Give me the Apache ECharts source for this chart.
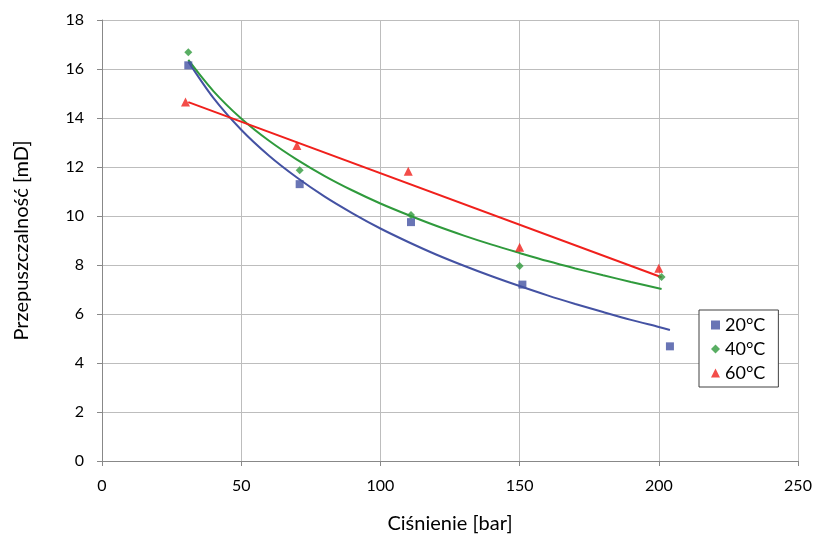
<!DOCTYPE html>
<html>
<head>
<meta charset="utf-8">
<script src="https://cdn.jsdelivr.net/npm/echarts@6/dist/echarts.min.js"></script>
<style>
html,body{margin:0;padding:0;background:#fff;}
#chart{width:815px;height:537px;}
</style>
</head>
<body>
<div id="chart"></div>
<script>
// punkty pomiarowe [ciśnienie, przepuszczalność]
var pts20 = [[31, 16.15], [71, 11.3], [111, 9.75], [151, 7.2], [204, 4.68]];
var pts40 = [[31, 16.68], [71, 11.87], [111, 10.04], [150, 7.96], [201, 7.51]];
var pts60 = [[30, 14.65], [70, 12.88], [110, 11.83], [150, 8.72], [200, 7.87]];

// linie trendu
var trend20 = [[31, 16.3], [40, 14.82], [50, 13.52], [60, 12.46], [70, 11.57], [80, 10.79], [90, 10.11], [100, 9.49],
    [110, 8.94], [120, 8.43], [130, 7.97], [140, 7.54], [150, 7.14], [160, 6.76], [170, 6.41], [180, 6.08],
    [190, 5.76], [200, 5.47], [204, 5.35]];
var trend40 = [[31, 16.37], [40, 15.1], [50, 13.98], [60, 13.07], [70, 12.3], [80, 11.63], [90, 11.04], [100, 10.51],
    [110, 10.04], [120, 9.6], [130, 9.2], [140, 8.83], [150, 8.49], [160, 8.16], [170, 7.86], [180, 7.58],
    [190, 7.31], [201, 7.02]];
var trend60 = [[31, 14.65], [201, 7.5]];

var names = ["20°C", "40°C", "60°C"];
var kolory = ["#4452a3", "#2f9a3c", "#f0201c"];

var chart = echarts.init(document.getElementById("chart"));
var font = "Lato, 'Open Sans', sans-serif";

function linia(data, c) {
    return {type: "line", data: data, smooth: 0.3, showSymbol: false, silent: true,
        lineStyle: {color: c, width: 2}, z: 2};
}
function punkty(name, data, c, sym, size) {
    return {name: name, type: "scatter", data: data, symbol: sym, symbolSize: size,
        itemStyle: {color: c}, z: 3};
}

var option = {
    animation: false,
    grid: {left: 102, right: 17, top: 20, bottom: 76, outerBoundsMode: "none"},
    legend: {
        orient: "vertical", left: 699, top: 310,
        itemWidth: 9, itemHeight: 9, itemGap: 6,
        padding: [6, 13, 5, 12],
        backgroundColor: "#fff", borderColor: "#404040", borderWidth: 1,
        textStyle: {fontFamily: font, fontSize: 18, color: "#000"},
        data: [
            {name: names[0], icon: "rect"},
            {name: names[1], icon: "diamond"},
            {name: names[2], icon: "triangle"}
        ]
    },
    xAxis: {
        type: "value", min: 0, max: 250, interval: 50,
        name: "Ciśnienie [bar]", nameLocation: "middle", nameGap: 53,
        nameTextStyle: {fontFamily: font, fontSize: 20, color: "#000"},
        axisLine: {lineStyle: {color: "#888"}},
        axisTick: {show: true, length: 5, lineStyle: {color: "#888"}},
        axisLabel: {fontFamily: font, fontSize: 16, color: "#000", margin: 17},
        splitLine: {lineStyle: {color: "#bdbdbd", width: 1}}
    },
    yAxis: {
        type: "value", min: 0, max: 18, interval: 2,
        name: "Przepuszczalność [mD]", nameLocation: "middle", nameGap: 70,
        nameTextStyle: {fontFamily: font, fontSize: 20, color: "#000"},
        axisLine: {show: true, lineStyle: {color: "#888"}},
        axisTick: {show: true, length: 5, lineStyle: {color: "#888"}},
        axisLabel: {fontFamily: font, fontSize: 16, color: "#000", margin: 18},
        splitLine: {lineStyle: {color: "#bdbdbd", width: 1}}
    },
    series: [
        linia(trend20, kolory[0]),
        linia(trend40, kolory[1]),
        linia(trend60, kolory[2]),
        punkty(names[0], pts20, kolory[0], "rect", 8),
        punkty(names[1], pts40, kolory[1], "diamond", 8),
        punkty(names[2], pts60, kolory[2], "triangle", 9)
    ]
};
chart.setOption(option);
</script>
</body>
</html>
